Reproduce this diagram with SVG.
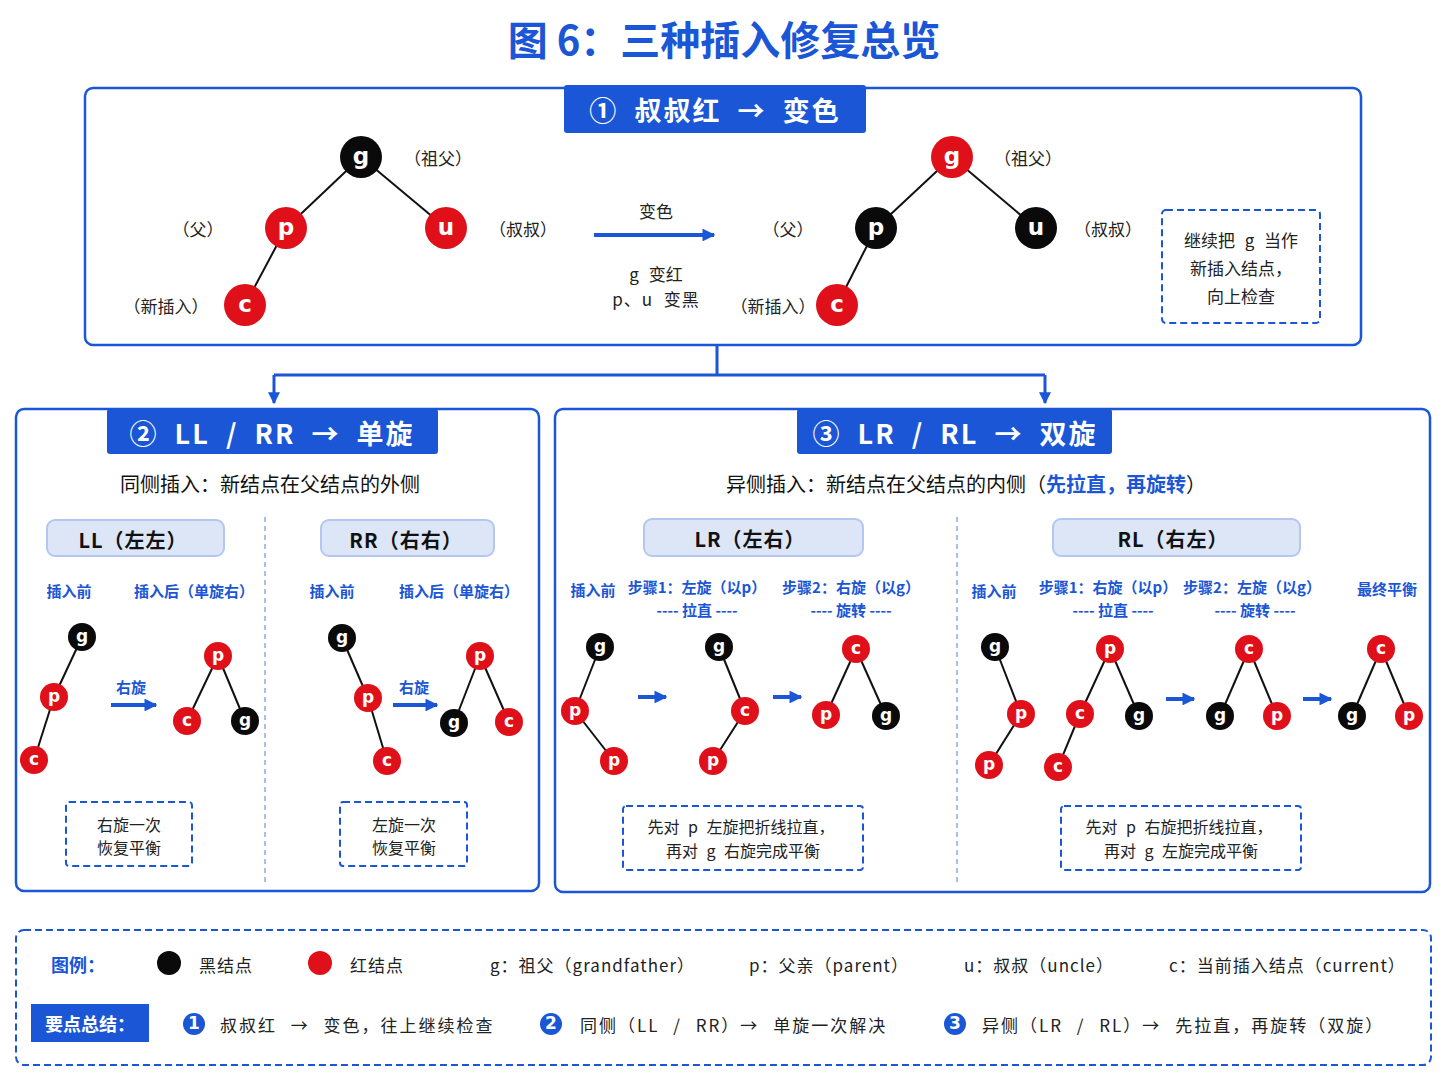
<svg xmlns="http://www.w3.org/2000/svg" width="1448" height="1086" viewBox="0 0 1448 1086">
<defs>
<marker id="ah" viewBox="0 0 10 10" refX="9" refY="5" markerWidth="4" markerHeight="4" orient="auto"><path d="M0,0 L10,5 L0,10 z" fill="#1a56d6"/></marker>
<marker id="ah2" viewBox="0 0 10 10" refX="9" refY="5" markerWidth="3.2" markerHeight="3.2" orient="auto"><path d="M0,0 L10,5 L0,10 z" fill="#1a56d6"/></marker>
<style>
text{font-family:"Noto Sans CJK SC","Noto Sans",sans-serif;text-anchor:middle;dominant-baseline:central}
.panel{fill:#fff;stroke:#1a56d6;stroke-width:2.5}
.tab{fill:#1a56d6}
.tabt{fill:#fff;font-size:27px;font-weight:bold;letter-spacing:2px;word-spacing:8px}
.lbl{font-size:17px;fill:#222}
.dbox{fill:none;stroke:#1a56d6;stroke-width:2;stroke-dasharray:7 4}
.sub{fill:#dde6f7;stroke:#b3c7f0;stroke-width:2}
.subt{font-size:20px;font-weight:bold;fill:#111;letter-spacing:1px}
.bl{font-size:15px;font-weight:bold;fill:#1a56d6}
.e{stroke:#111;stroke-width:2}
.r{fill:#e0101a}
.k{fill:#0a0a0a}
.nt{fill:#fff;font-size:23px;font-weight:bold;font-family:"DejaVu Sans",sans-serif}
.ns{fill:#fff;font-size:17px;font-weight:bold;font-family:"DejaVu Sans",sans-serif}
.arr{stroke:#1a56d6;stroke-width:4;fill:none}
.con{stroke:#1a56d6;stroke-width:3;fill:none}
.div{stroke:#8aaae6;stroke-width:1.5;stroke-dasharray:5 4}
.bt{font-size:16px;fill:#222;word-spacing:5px}
.lg{font-size:17px;fill:#222;letter-spacing:1px;word-spacing:5px}
.ls{text-anchor:start}
</style>
</defs>
<rect width="1448" height="1086" fill="#fff"/>
<text x="724" y="38" font-size="40" font-weight="bold" fill="#1a56d6">图 6：三种插入修复总览</text>

<g id="connectors">
<path class="con" d="M717,345 V375 M274,375 H1045"/>
<path class="con" d="M274,375 V403" marker-end="url(#ah)"/>
<path class="con" d="M1045,375 V403" marker-end="url(#ah)"/>
</g>

<g id="panel1">
<rect class="panel" x="85" y="88" width="1276" height="257" rx="8"/>
<rect class="tab" x="564" y="85" width="302" height="48" rx="3"/>
<text class="tabt" x="715" y="109">① 叔叔红 → 变色</text>
<line class="e" x1="361" y1="157" x2="286" y2="228"/><line class="e" x1="361" y1="157" x2="446" y2="228"/><line class="e" x1="286" y1="228" x2="245" y2="305"/>
<circle class="k" cx="361" cy="157" r="21"/><text class="nt" x="361" y="156">g</text>
<circle class="r" cx="286" cy="228" r="21"/><text class="nt" x="286" y="227">p</text>
<circle class="r" cx="446" cy="228" r="21"/><text class="nt" x="446" y="227">u</text>
<circle class="r" cx="245" cy="305" r="21"/><text class="nt" x="245" y="304">c</text>
<text class="lbl" x="438" y="157">（祖父）</text><text class="lbl" x="198" y="228">（父）</text><text class="lbl" x="523" y="228">（叔叔）</text><text class="lbl" x="166" y="305">（新插入）</text>
<text class="lbl" x="656" y="210" font-size="19">变色</text>
<line class="arr" x1="594" y1="235" x2="714" y2="235" marker-end="url(#ah2)"/>
<text class="lbl" x="656" y="273" style="word-spacing:6px">g 变红</text><text class="lbl" x="656" y="298" style="word-spacing:6px;letter-spacing:1px">p、u 变黑</text>
<line class="e" x1="952" y1="157" x2="876" y2="228"/><line class="e" x1="952" y1="157" x2="1036" y2="228"/><line class="e" x1="876" y1="228" x2="837" y2="305"/>
<circle class="r" cx="952" cy="157" r="21"/><text class="nt" x="952" y="156">g</text>
<circle class="k" cx="876" cy="228" r="21"/><text class="nt" x="876" y="227">p</text>
<circle class="k" cx="1036" cy="228" r="21"/><text class="nt" x="1036" y="227">u</text>
<circle class="r" cx="837" cy="305" r="21"/><text class="nt" x="837" y="304">c</text>
<text class="lbl" x="1028" y="157">（祖父）</text><text class="lbl" x="788" y="228">（父）</text><text class="lbl" x="1108" y="228">（叔叔）</text><text class="lbl" x="773" y="305">（新插入）</text>
<rect class="dbox" x="1162" y="210" width="158" height="113" rx="4"/>
<text class="lbl" x="1241" y="239" font-size="19" style="word-spacing:6px">继续把 g 当作</text><text class="lbl" x="1241" y="267" font-size="19">新插入结点，</text><text class="lbl" x="1241" y="295" font-size="19">向上检查</text>
</g>

<g id="panel2">
<rect class="panel" x="16" y="409" width="523" height="482" rx="8"/>
<rect class="tab" x="107" y="409" width="331" height="45" rx="3"/>
<text class="tabt" x="272" y="432">② LL / RR → 单旋</text>
<text x="270" y="483" font-size="20" fill="#111">同侧插入：新结点在父结点的外侧</text>
<line class="div" x1="265" y1="517" x2="265" y2="885"/>
<rect class="sub" x="47" y="520" width="177" height="36" rx="8"/><text class="subt" x="133" y="539">LL（左左）</text>
<rect class="sub" x="321" y="520" width="173" height="36" rx="8"/><text class="subt" x="406" y="539">RR（右右）</text>
<text class="bl" x="69" y="590">插入前</text><text class="bl" x="194" y="590">插入后（单旋右）</text>
<text class="bl" x="332" y="590">插入前</text><text class="bl" x="459" y="590">插入后（单旋右）</text>
<line class="e" x1="82" y1="637" x2="54" y2="697"/><line class="e" x1="54" y1="697" x2="34" y2="760"/>
<circle class="k" cx="82" cy="637" r="14"/><text class="ns" x="82" y="636">g</text>
<circle class="r" cx="54" cy="697" r="14"/><text class="ns" x="54" y="696">p</text>
<circle class="r" cx="34" cy="760" r="14"/><text class="ns" x="34" y="759">c</text>
<text class="bl" x="131" y="686" font-size="17">右旋</text>
<line class="arr" x1="111" y1="705" x2="156" y2="705" stroke-width="3.5" marker-end="url(#ah2)"/>
<line class="e" x1="218" y1="656" x2="187" y2="721"/><line class="e" x1="218" y1="656" x2="245" y2="721"/>
<circle class="r" cx="218" cy="656" r="14"/><text class="ns" x="218" y="655">p</text>
<circle class="r" cx="187" cy="721" r="14"/><text class="ns" x="187" y="720">c</text>
<circle class="k" cx="245" cy="721" r="14"/><text class="ns" x="245" y="720">g</text>
<line class="e" x1="342" y1="638" x2="368" y2="698"/><line class="e" x1="368" y1="698" x2="387" y2="761"/>
<circle class="k" cx="342" cy="638" r="14"/><text class="ns" x="342" y="637">g</text>
<circle class="r" cx="368" cy="698" r="14"/><text class="ns" x="368" y="697">p</text>
<circle class="r" cx="387" cy="761" r="14"/><text class="ns" x="387" y="760">c</text>
<text class="bl" x="414" y="686" font-size="17">右旋</text>
<line class="arr" x1="393" y1="705" x2="437" y2="705" stroke-width="3.5" marker-end="url(#ah2)"/>
<line class="e" x1="480" y1="656" x2="454" y2="723"/><line class="e" x1="480" y1="656" x2="509" y2="722"/>
<circle class="r" cx="480" cy="656" r="14"/><text class="ns" x="480" y="655">p</text>
<circle class="k" cx="454" cy="723" r="14"/><text class="ns" x="454" y="722">g</text>
<circle class="r" cx="509" cy="722" r="14"/><text class="ns" x="509" y="721">c</text>
<rect class="dbox" x="66" y="802" width="126" height="64" rx="3"/>
<text class="bt" x="129" y="824">右旋一次</text><text class="bt" x="129" y="847">恢复平衡</text>
<rect class="dbox" x="340" y="802" width="127" height="64" rx="3"/>
<text class="bt" x="404" y="824">左旋一次</text><text class="bt" x="404" y="847">恢复平衡</text>
</g>

<g id="panel3">
<rect class="panel" x="555" y="409" width="875" height="483" rx="8"/>
<rect class="tab" x="797" y="409" width="315" height="45" rx="3"/>
<text class="tabt" x="955" y="432">③ LR / RL → 双旋</text>
<text x="966" y="483" font-size="20" fill="#111">异侧插入：新结点在父结点的内侧（<tspan fill="#1a56d6" font-weight="bold">先拉直，再旋转</tspan>）</text>
<line class="div" x1="957" y1="517" x2="957" y2="885"/>
<rect class="sub" x="644" y="519" width="219" height="37" rx="8"/><text class="subt" x="750" y="538">LR（左右）</text>
<rect class="sub" x="1053" y="519" width="247" height="37" rx="8"/><text class="subt" x="1173" y="538">RL（右左）</text>
<text class="bl" x="593" y="589">插入前</text>
<text class="bl" x="697" y="586" font-size="14">步骤1：左旋（以p）</text><text class="bl" x="697" y="609" font-size="14">---- 拉直 ----</text>
<text class="bl" x="851" y="586" font-size="14">步骤2：右旋（以g）</text><text class="bl" x="851" y="609" font-size="14">---- 旋转 ----</text>
<text class="bl" x="994" y="590">插入前</text>
<text class="bl" x="1108" y="586" font-size="14">步骤1：右旋（以p）</text><text class="bl" x="1113" y="609" font-size="14">---- 拉直 ----</text>
<text class="bl" x="1252" y="586" font-size="14">步骤2：左旋（以g）</text><text class="bl" x="1255" y="609" font-size="14">---- 旋转 ----</text>
<text class="bl" x="1387" y="588">最终平衡</text>
<line class="e" x1="600" y1="647" x2="575" y2="711"/><line class="e" x1="575" y1="711" x2="614" y2="761"/>
<circle class="k" cx="600" cy="647" r="14"/><text class="ns" x="600" y="646">g</text>
<circle class="r" cx="575" cy="711" r="14"/><text class="ns" x="575" y="710">p</text>
<circle class="r" cx="614" cy="761" r="14"/><text class="ns" x="614" y="760">p</text>
<line class="arr" x1="638" y1="697" x2="666" y2="697" marker-end="url(#ah2)"/>
<line class="e" x1="719" y1="647" x2="745" y2="711"/><line class="e" x1="745" y1="711" x2="713" y2="761"/>
<circle class="k" cx="719" cy="647" r="14"/><text class="ns" x="719" y="646">g</text>
<circle class="r" cx="745" cy="711" r="14"/><text class="ns" x="745" y="710">c</text>
<circle class="r" cx="713" cy="761" r="14"/><text class="ns" x="713" y="760">p</text>
<line class="arr" x1="773" y1="697" x2="801" y2="697" marker-end="url(#ah2)"/>
<line class="e" x1="856" y1="649" x2="826" y2="715"/><line class="e" x1="856" y1="649" x2="886" y2="716"/>
<circle class="r" cx="856" cy="649" r="14"/><text class="ns" x="856" y="648">c</text>
<circle class="r" cx="826" cy="715" r="14"/><text class="ns" x="826" y="714">p</text>
<circle class="k" cx="886" cy="716" r="14"/><text class="ns" x="886" y="715">g</text>
<line class="e" x1="995" y1="647" x2="1021" y2="714"/><line class="e" x1="1021" y1="714" x2="989" y2="765"/>
<circle class="k" cx="995" cy="647" r="14"/><text class="ns" x="995" y="646">g</text>
<circle class="r" cx="1021" cy="714" r="14"/><text class="ns" x="1021" y="713">p</text>
<circle class="r" cx="989" cy="765" r="14"/><text class="ns" x="989" y="764">p</text>
<line class="e" x1="1110" y1="649" x2="1080" y2="714"/><line class="e" x1="1110" y1="649" x2="1139" y2="716"/><line class="e" x1="1080" y1="714" x2="1058" y2="767"/>
<circle class="r" cx="1110" cy="649" r="14"/><text class="ns" x="1110" y="648">p</text>
<circle class="r" cx="1080" cy="714" r="14"/><text class="ns" x="1080" y="713">c</text>
<circle class="k" cx="1139" cy="716" r="14"/><text class="ns" x="1139" y="715">g</text>
<circle class="r" cx="1058" cy="767" r="14"/><text class="ns" x="1058" y="766">c</text>
<line class="arr" x1="1166" y1="699" x2="1194" y2="699" marker-end="url(#ah2)"/>
<line class="e" x1="1249" y1="649" x2="1220" y2="716"/><line class="e" x1="1249" y1="649" x2="1277" y2="716"/>
<circle class="r" cx="1249" cy="649" r="14"/><text class="ns" x="1249" y="648">c</text>
<circle class="k" cx="1220" cy="716" r="14"/><text class="ns" x="1220" y="715">g</text>
<circle class="r" cx="1277" cy="716" r="14"/><text class="ns" x="1277" y="715">p</text>
<line class="arr" x1="1303" y1="699" x2="1331" y2="699" marker-end="url(#ah2)"/>
<line class="e" x1="1381" y1="649" x2="1352" y2="716"/><line class="e" x1="1381" y1="649" x2="1409" y2="716"/>
<circle class="r" cx="1381" cy="649" r="14"/><text class="ns" x="1381" y="648">c</text>
<circle class="k" cx="1352" cy="716" r="14"/><text class="ns" x="1352" y="715">g</text>
<circle class="r" cx="1409" cy="716" r="14"/><text class="ns" x="1409" y="715">p</text>
<rect class="dbox" x="623" y="806" width="240" height="64" rx="3"/>
<text class="bt" x="741" y="826">先对 p 左旋把折线拉直，</text><text class="bt" x="743" y="850">再对 g 右旋完成平衡</text>
<rect class="dbox" x="1061" y="806" width="240" height="64" rx="3"/>
<text class="bt" x="1179" y="826">先对 p 右旋把折线拉直，</text><text class="bt" x="1181" y="850">再对 g 左旋完成平衡</text>
</g>

<g id="legend">
<rect class="dbox" x="16" y="930" width="1415" height="135" rx="8"/>
<text x="78" y="964" font-size="18" font-weight="bold" fill="#1a56d6">图例：</text>
<circle class="k" cx="169" cy="963" r="12"/><text class="lg" x="226" y="964">黑结点</text>
<circle class="r" cx="320" cy="963" r="12"/><text class="lg" x="377" y="964">红结点</text>
<text class="lg ls" x="490" y="964">g：祖父（grandfather）</text>
<text class="lg ls" x="749" y="964">p：父亲（parent）</text>
<text class="lg ls" x="964" y="964">u：叔叔（uncle）</text>
<text class="lg ls" x="1169" y="964">c：当前插入结点（current）</text>
<rect class="tab" x="31" y="1004" width="118" height="38"/>
<text x="90" y="1023" font-size="18" font-weight="bold" fill="#fff">要点总结：</text>
<circle fill="#1a56d6" cx="194" cy="1024" r="11"/><text class="ns" x="194" y="1023" font-size="14">1</text>
<text class="lg ls" x="220" y="1024" style="letter-spacing:2px;word-spacing:8px">叔叔红 → 变色，往上继续检查</text>
<circle fill="#1a56d6" cx="551" cy="1024" r="11"/><text class="ns" x="551" y="1023" font-size="14">2</text>
<text class="lg ls" x="580" y="1024" style="letter-spacing:2px;word-spacing:8px">同侧（LL / RR）→ 单旋一次解决</text>
<circle fill="#1a56d6" cx="955" cy="1024" r="11"/><text class="ns" x="955" y="1023" font-size="14">3</text>
<text class="lg ls" x="982" y="1024" style="letter-spacing:2px;word-spacing:8px">异侧（LR / RL）→ 先拉直，再旋转（双旋）</text>
</g>
</svg>
